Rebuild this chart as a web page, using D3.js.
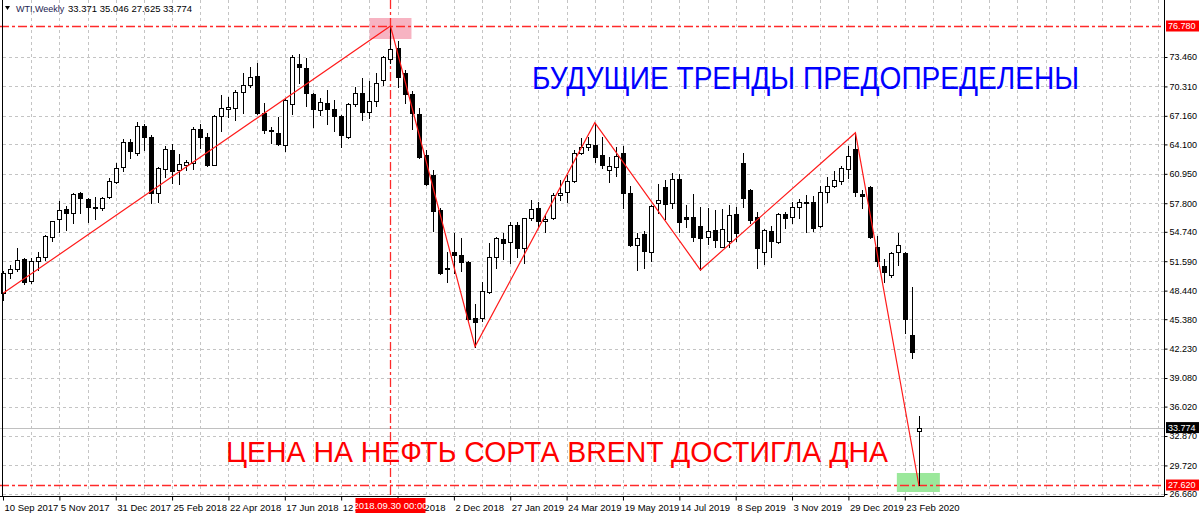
<!DOCTYPE html>
<html><head><meta charset="utf-8">
<script src="https://cdn.jsdelivr.net/npm/d3@7"></script>
<style>body{margin:0;background:#fff}svg{display:block}text{font-family:"Liberation Sans",Arial,sans-serif}</style>
</head><body><svg id="c" width="1200" height="515"></svg>
<script>
// ---- DATA (weekly WTI, from 10 Sep 2017) ----
const opens  = [48.15,50.36,50.72,51.80,49.50,51.65,52.08,54.22,56.08,57.15,56.79,58.93,58.29,57.37,57.26,58.43,60.11,61.71,64.36,63.14,66.07,64.86,58.86,61.43,63.50,61.36,61.90,62.07,65.75,64.86,61.90,67.14,67.93,67.97,69.75,70.46,71.42,67.43,65.64,65.35,64.04,68.43,72.68,72.25,69.50,67.78,68.57,67.86,67.14,64.93,68.43,69.64,67.60,68.78,71.00,73.21,74.39,71.71,69.50,67.36,62.97,60.82,57.08,50.80,52.60,52.25,51.54,45.48,45.48,48.33,52.00,53.94,53.68,55.47,52.97,56.19,57.26,55.93,56.19,58.68,59.04,60.18,63.21,63.85,64.04,62.97,61.36,61.71,63.14,58.86,53.32,54.51,52.60,57.79,59.57,57.79,60.36,56.29,56.29,55.36,54.15,54.93,53.15,53.79,56.65,62.07,59.21,56.29,52.60,54.86,53.68,56.65,56.29,57.37,57.90,57.96,55.36,59.04,59.65,60.21,61.43,63.58,58.80,59.50,53.15,51.08,50.11,52.60,52.50,43.66,33.371];
const highs  = [50.50,51.19,52.97,51.95,51.90,52.60,54.40,55.95,58.00,57.50,58.90,59.00,58.33,58.50,58.50,60.47,62.14,64.65,64.65,66.47,66.25,65.11,61.71,63.90,64.14,63.07,62.43,65.93,66.25,65.30,67.30,69.40,69.20,69.90,71.78,72.36,72.85,68.57,66.00,67.00,69.04,73.68,73.75,73.39,69.60,69.04,69.93,68.86,67.20,68.50,70.28,71.18,70.90,71.71,73.55,76.78,75.20,72.07,69.86,67.97,63.50,61.36,57.30,52.60,54.58,54.05,51.60,47.01,49.40,53.57,54.22,54.58,55.83,55.83,56.19,58.14,57.96,56.55,58.90,60.29,60.82,63.50,64.75,64.93,66.43,64.93,62.79,63.85,63.93,59.65,54.65,54.86,57.61,59.86,60.29,61.00,60.93,57.61,58.79,57.43,57.26,57.08,57.15,57.60,57.43,63.14,59.30,56.90,55.00,55.36,56.79,56.90,57.96,58.22,58.68,58.57,59.65,60.65,61.30,61.79,63.93,65.35,59.21,59.65,54.29,51.80,52.60,54.58,52.60,48.80,35.046];
const lows   = [47.44,49.80,50.57,49.20,49.30,50.70,51.72,53.79,54.75,54.90,55.72,56.80,55.80,56.08,57.10,58.33,60.00,61.30,62.68,62.97,63.50,57.86,57.90,60.64,59.94,59.86,61.36,61.43,63.68,61.80,61.90,65.50,67.00,66.75,67.50,70.22,67.36,65.35,64.22,64.00,63.40,67.36,70.65,68.21,65.93,67.25,66.29,65.57,63.85,64.75,68.21,66.71,66.90,68.21,70.46,72.85,70.28,68.50,65.72,62.61,59.70,54.86,50.20,49.40,50.29,50.57,45.30,42.44,45.23,48.20,50.90,51.80,51.37,52.08,51.43,56.00,55.29,54.75,56.10,58.14,57.96,60.11,63.07,63.50,62.25,61.54,60.11,60.70,57.26,53.20,50.65,50.84,51.65,56.72,56.08,57.26,54.75,55.29,53.79,50.65,53.43,53.15,53.15,53.15,53.79,57.43,55.64,50.84,51.29,52.08,53.50,55.11,55.72,56.19,54.75,54.86,55.22,57.96,59.50,59.86,60.47,58.57,57.26,54.05,51.08,49.40,49.94,51.18,43.93,41.19,27.625];
const closes = [50.36,50.79,51.72,49.40,51.60,52.08,54.29,55.87,57.08,56.79,58.79,58.33,57.37,57.26,58.33,60.21,61.54,64.39,63.43,66.10,64.86,58.86,61.54,63.58,61.28,62.00,62.25,65.78,64.86,61.90,67.14,67.97,68.14,69.75,70.46,71.35,67.43,65.64,65.50,64.11,68.86,73.50,72.42,69.57,67.86,68.68,67.86,67.14,65.11,68.43,69.64,67.60,68.78,70.71,73.50,74.29,71.28,69.50,67.50,62.78,59.86,57.00,50.29,50.90,52.25,51.54,45.37,45.12,48.43,52.00,54.05,53.57,55.47,52.97,56.19,57.15,55.93,56.10,58.68,58.93,60.21,63.21,63.85,64.14,62.79,61.90,61.79,62.86,58.93,53.32,54.05,52.72,57.50,58.14,57.72,60.36,55.82,56.08,54.15,54.05,54.86,53.86,55.00,56.54,54.65,58.33,56.00,52.97,54.93,53.79,56.65,56.19,57.37,57.96,57.80,55.11,59.04,59.65,60.29,61.54,62.86,59.04,58.60,54.15,51.65,50.47,52.44,53.32,45.37,41.90,33.774];
const xTickIdx    = [0,8,16,24,32,40,48,56,64,72,80,88,96,104,112,120,128];
const xTickLabels = ["10 Sep 2017","5 Nov 2017","31 Dec 2017","25 Feb 2018","22 Apr 2018","17 Jun 2018","12 Aug 2018","7 Oct 2018","2 Dec 2018","27 Jan 2019","24 Mar 2019","19 May 2019","14 Jul 2019","8 Sep 2019","3 Nov 2019","29 Dec 2019","23 Feb 2020"];
const yTicks = [26.66,29.72,32.87,36.02,39.08,42.23,45.38,48.44,51.59,54.74,57.80,60.95,64.10,67.16,70.31,73.46];
const trendIdx = [0,55,67,84,99,121,130];
const trendVal = [48.15,76.78,42.44,66.43,50.65,65.35,27.625];
const highLine = 76.78, lowLine = 27.62, bidPrice = 33.774, crossIdx = 55;
const header = ["WTI,Weekly","33.371 35.046 27.625 33.774"];
const textTop = "БУДУЩИЕ ТРЕНДЫ ПРЕДОПРЕДЕЛЕНЫ";
const textBottom = "ЦЕНА НА НЕФТЬ СОРТА BRENT ДОСТИГЛА ДНА";

// ---- LAYOUT ----
const svg = d3.select("#c");
const plotR = 1164, plotB = 496;
const x = d3.scaleLinear().domain([0,130]).range([3, 3+130*7.045]);
const y = d3.scaleLinear().domain([26.66,76.78]).range([494,26]);
const data = opens.map((o,i)=>({i,o,h:highs[i],l:lows[i],c:closes[i]}));

svg.append("rect").attr("width",1200).attr("height",515).attr("fill","#fff");

// grid
const g = svg.append("g").attr("stroke","#c4c4c4").attr("stroke-dasharray","3,3").attr("stroke-width",1);
yTicks.forEach(v=>g.append("line").attr("x1",3).attr("x2",plotR).attr("y1",Math.round(y(v))+0.5).attr("y2",Math.round(y(v))+0.5));
for(let i=4;x(i)<plotR-2;i+=4){const xx=Math.round(x(i))+0.5;g.append("line").attr("x1",xx).attr("x2",xx).attr("y1",0).attr("y2",plotB);}

// bid line
svg.append("line").attr("x1",0).attr("x2",plotR).attr("y1",Math.round(y(bidPrice))+0.5).attr("y2",Math.round(y(bidPrice))+0.5).attr("stroke","#c0c0c0");

// highlight boxes
svg.append("rect").attr("x",x(crossIdx)-21).attr("y",y(highLine)-8).attr("width",42).attr("height",21).attr("fill","#f7b3c2");
svg.append("rect").attr("x",x(130)-22).attr("y",y(trendVal[6])-12).attr("width",43).attr("height",19).attr("fill","#9be89b");

// red dash-dot lines
const dd = svg.append("g").attr("stroke","#ff2a2a").attr("stroke-width",1.3).attr("stroke-dasharray","9,3,3,3").attr("fill","none");
[highLine,lowLine].forEach(v=>dd.append("line").attr("x1",0).attr("x2",plotR).attr("y1",Math.round(y(v))+0.5).attr("y2",Math.round(y(v))+0.5));
dd.append("line").attr("x1",Math.round(x(crossIdx))+0.5).attr("x2",Math.round(x(crossIdx))+0.5).attr("y1",0).attr("y2",plotB);

// candles
const cg = svg.append("g");
data.forEach(d=>{
  const cx = Math.round(x(d.i))+0.5;
  cg.append("line").attr("x1",cx).attr("x2",cx).attr("y1",Math.round(y(d.h))).attr("y2",Math.round(y(d.l))+1).attr("stroke","#000");
  const top = Math.round(y(Math.max(d.o,d.c))), bot = Math.round(y(Math.min(d.o,d.c)));
  const up = d.c >= d.o;
  cg.append("rect").attr("x",cx-2).attr("y",top+0.5).attr("width",4).attr("height",Math.max(0.01,bot-top))
    .attr("fill",up?"#fff":"#000").attr("stroke","#000").attr("stroke-width",1);
});

// trend lines
svg.append("path").attr("d",d3.line().x(d=>x(d[0])).y(d=>y(d[1]))(trendIdx.map((t,k)=>[t,trendVal[k]])))
  .attr("fill","none").attr("stroke","#ff1a1a").attr("stroke-width",1.2);

// frame
svg.append("line").attr("x1",2.5).attr("x2",2.5).attr("y1",0).attr("y2",plotB).attr("stroke","#000");
svg.append("line").attr("x1",plotR+0.5).attr("x2",plotR+0.5).attr("y1",0).attr("y2",plotB+0.5).attr("stroke","#000");
svg.append("line").attr("x1",0).attr("x2",plotR).attr("y1",plotB+0.5).attr("y2",plotB+0.5).attr("stroke","#000");

// y axis
const ya = svg.append("g").attr("transform",`translate(${plotR+0.5},0)`)
  .call(d3.axisRight(y).tickValues(yTicks).tickFormat(d3.format(".3f")).tickSize(3).tickPadding(2));
ya.select(".domain").remove();
ya.selectAll("text").attr("font-size",9).attr("fill","#000").attr("font-family","Liberation Sans");

// x axis
const xa = svg.append("g").attr("transform",`translate(0,${plotB+0.5})`)
  .call(d3.axisBottom(x).tickValues(xTickIdx).tickFormat((d,k)=>xTickLabels[k]).tickSize(4).tickPadding(4));
xa.select(".domain").remove();
xa.selectAll("text").attr("font-size",9.5).attr("fill","#000").attr("text-anchor","start").attr("dx",1).attr("font-family","Liberation Sans");

// price labels
function priceLabel(v, txt, bg){
  const yy = y(v);
  svg.append("rect").attr("x",plotR+2).attr("y",yy-5.5).attr("width",33).attr("height",11).attr("fill",bg);
  svg.append("text").attr("x",plotR+4).attr("y",yy+3.3).attr("font-size",9).attr("fill","#fff").text(txt);
}
priceLabel(highLine,"76.780","#ff0000");
priceLabel(lowLine,"27.620","#ff0000");
priceLabel(bidPrice,"33.774","#000");

// time label
const tx = x(crossIdx);
svg.append("rect").attr("x",tx-35).attr("y",plotB+2).attr("width",70).attr("height",15).attr("fill","#ff0000");
svg.append("text").attr("x",tx).attr("y",plotB+13).attr("text-anchor","middle").attr("font-size",9.5).attr("fill","#fff").text("2018.09.30 00:00");

// header
svg.append("path").attr("d","M5,6 L10,6 L7.5,10 Z").attr("fill","#000");
svg.append("text").attr("x",16).attr("y",12).attr("font-size",9).attr("fill","#1c2452").text(header[0]);
svg.append("text").attr("x",68).attr("y",12).attr("font-size",9.5).attr("fill","#000").text(header[1]);

// annotations
svg.append("text").attr("x",532).attr("y",89).attr("font-size",32).attr("fill","#0000ff")
  .attr("textLength",547).attr("lengthAdjust","spacingAndGlyphs").text(textTop);
svg.append("text").attr("x",226).attr("y",462).attr("font-size",30).attr("fill","#ff0000")
  .attr("textLength",662).attr("lengthAdjust","spacingAndGlyphs").text(textBottom);
</script></body></html>
